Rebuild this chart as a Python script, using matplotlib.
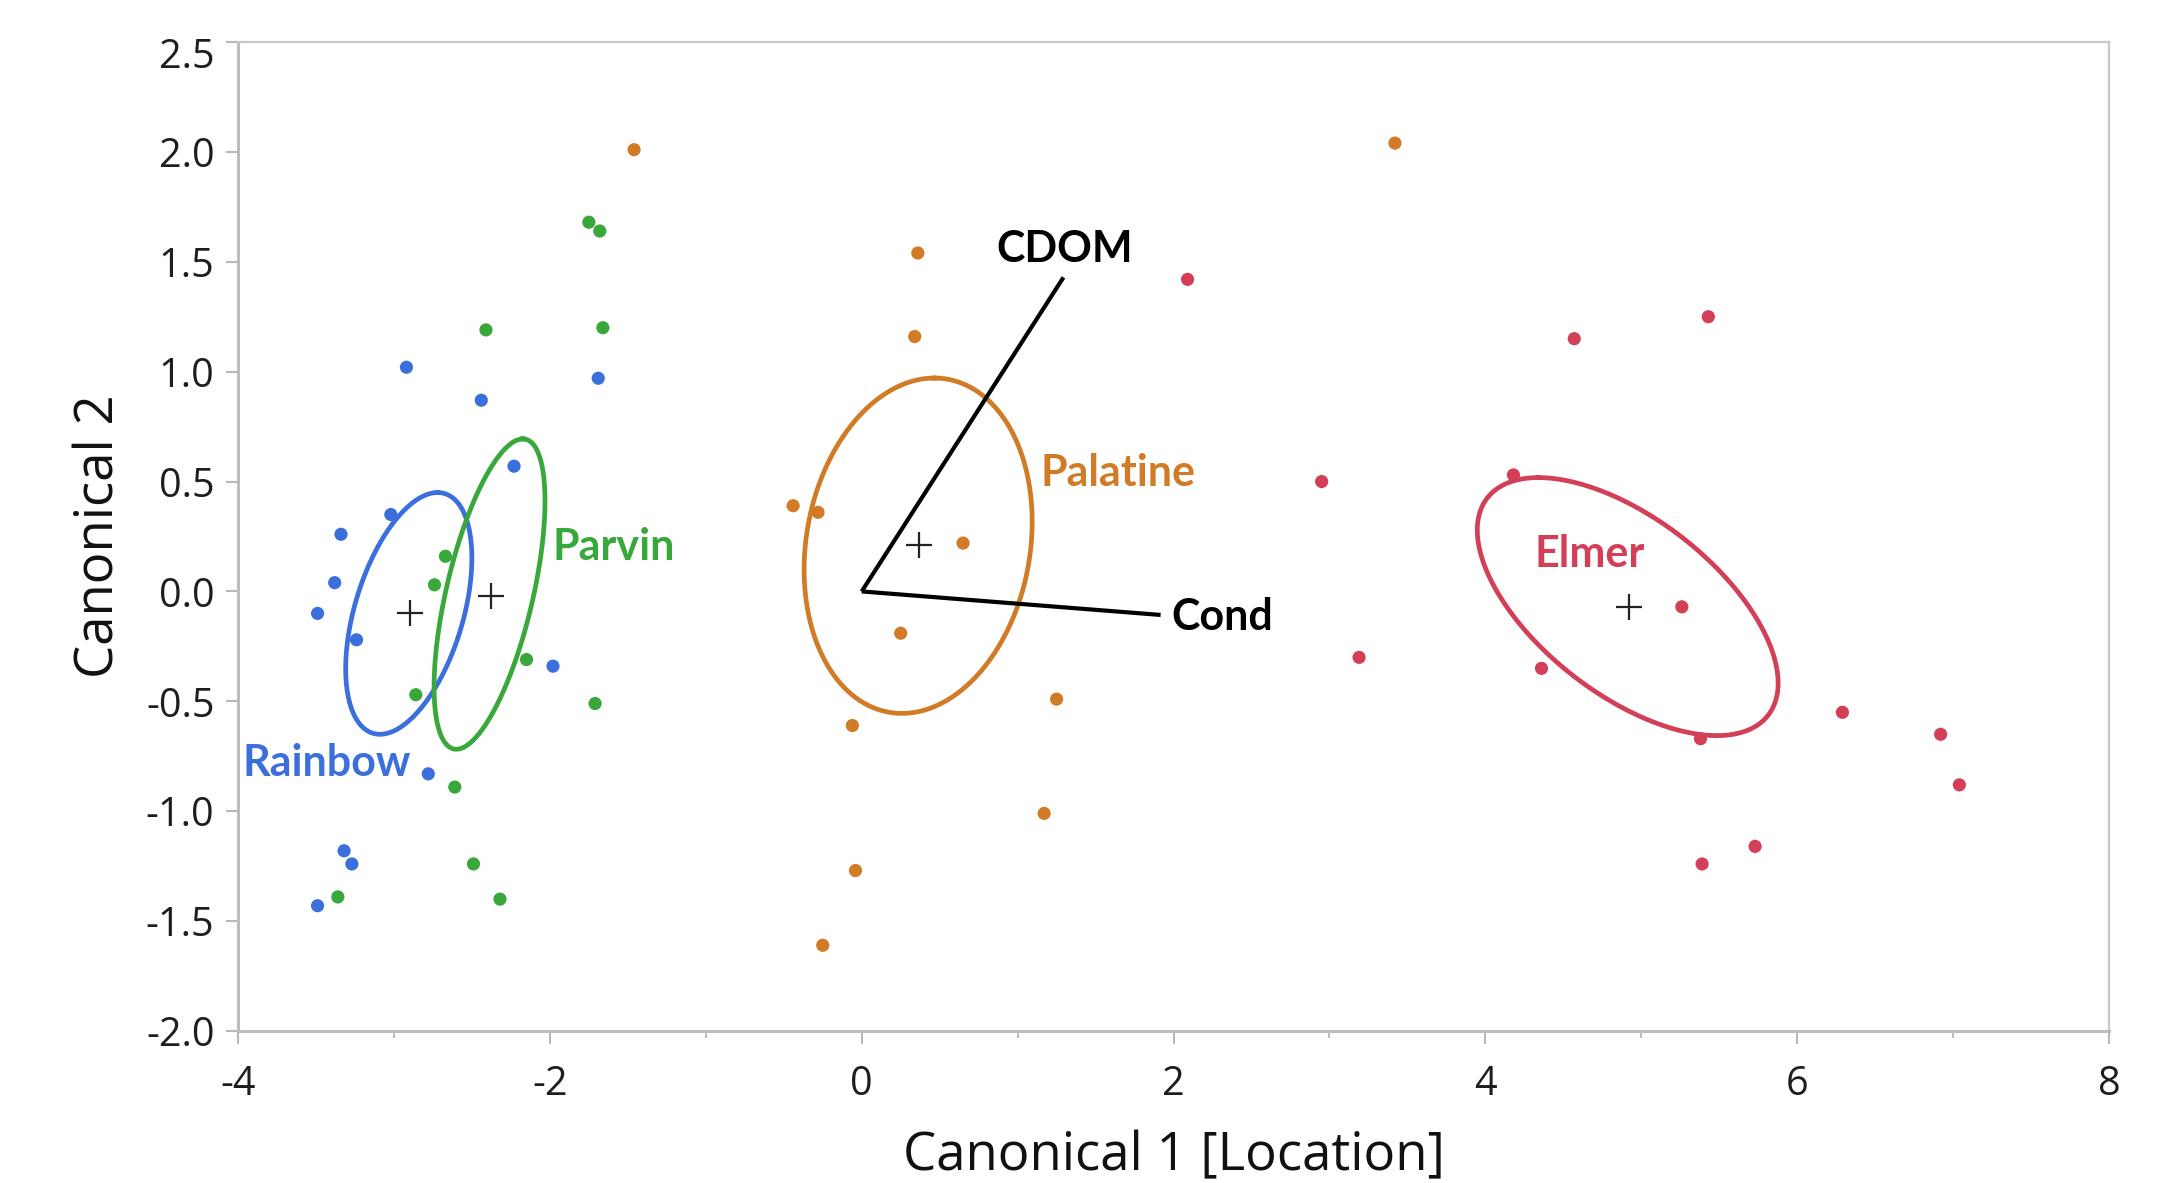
import numpy as np
import matplotlib
matplotlib.use("Agg")
import matplotlib.pyplot as plt
import matplotlib.transforms as mtransforms
from matplotlib.ticker import MultipleLocator

# --- data ---
groups = ["Rainbow", "Parvin", "Palatine", "Elmer"]
colors = ["#3b6fdc", "#38a83a", "#d27b27", "#d43f58"]

rainbow_x = [-2.92, -2.44, -1.69, -2.23, -3.02, -3.34, -3.38, -3.49, -3.24, -1.98, -2.78, -3.32, -3.27, -3.49]
rainbow_y = [1.02, 0.87, 0.97, 0.57, 0.35, 0.26, 0.04, -0.10, -0.22, -0.34, -0.83, -1.18, -1.24, -1.43]

parvin_x = [-1.75, -1.68, -2.41, -1.66, -2.67, -2.74, -2.15, -2.86, -1.71, -2.61, -2.49, -2.32, -3.36]
parvin_y = [1.68, 1.64, 1.19, 1.20, 0.16, 0.03, -0.31, -0.47, -0.51, -0.89, -1.24, -1.40, -1.39]

palatine_x = [-1.46, 0.36, 0.34, -0.44, -0.28, 0.65, 0.25, 1.25, -0.06, 1.17, -0.04, -0.25, 3.42]
palatine_y = [2.01, 1.54, 1.16, 0.39, 0.36, 0.22, -0.19, -0.49, -0.61, -1.01, -1.27, -1.61, 2.04]

elmer_x = [2.09, 4.57, 5.43, 2.95, 4.18, 5.26, 3.19, 4.36, 5.38, 6.29, 6.92, 7.04, 5.73, 5.39]
elmer_y = [1.42, 1.15, 1.25, 0.50, 0.53, -0.07, -0.30, -0.35, -0.67, -0.55, -0.65, -0.88, -1.16, -1.24]

# group means (+ markers)
mean_x = [-2.90, -2.38, 0.37, 4.92]
mean_y = [-0.10, -0.02, 0.21, -0.07]

# confidence ellipses: centre, vector to the top point, horizontal half-axis
ell_cx = [-2.905, -2.387, 0.362, 4.913]
ell_cy = [-0.10, -0.012, 0.208, -0.069]
ell_ux = [0.185, 0.213, 0.104, -0.572]
ell_uy = [0.55, 0.706, 0.763, 0.587]
ell_h = [0.36, 0.285, 0.724, 0.777]

# biplot rays
ray_names = ["CDOM", "Cond"]
ray_x = [1.294, 1.917]
ray_y = [1.429, -0.107]

xticks = [-4, -2, 0, 2, 4, 6, 8]
yticks = [-2.0, -1.5, -1.0, -0.5, 0.0, 0.5, 1.0, 1.5, 2.0, 2.5]

plt.rcParams['font.family'] = ['Open Sans', 'DejaVu Sans']

fig = plt.figure(figsize=(21.7, 11.83), dpi=100)
ax = fig.add_axes([0.1097, 0.1285, 0.8622, 0.836])

pts_x = [rainbow_x, parvin_x, palatine_x, elmer_x]
pts_y = [rainbow_y, parvin_y, palatine_y, elmer_y]

t = np.linspace(0, 2 * np.pi, 300)
for i in range(len(groups)):
    ex = ell_cx[i] + ell_ux[i] * np.cos(t) + ell_h[i] * np.sin(t)
    ey = ell_cy[i] + ell_uy[i] * np.cos(t)
    ax.plot(ex, ey, color=colors[i], lw=3.4, zorder=2)

for name, rx, ry in zip(ray_names, ray_x, ray_y):
    ax.plot([0, rx], [0, ry], color="black", lw=3.0, zorder=3, solid_capstyle="butt")

for i in range(len(groups)):
    ax.scatter(pts_x[i], pts_y[i], s=90, color=colors[i], edgecolors="none", zorder=4)

ax.plot(mean_x, mean_y, ls="none", marker="+", ms=19, mew=1.6, color="#222222", zorder=5)

# labels
lab_kw = dict(family=['Lato', 'DejaVu Sans'], fontweight="bold", fontsize=31, zorder=6)
ax.text(-3.97, -0.78, "Rainbow", color=colors[0], ha="left", va="center", **lab_kw)
ax.text(-1.98, 0.20, "Parvin", color=colors[1], ha="left", va="center", **lab_kw)
ax.text(1.645, 0.54, "Palatine", color=colors[2], ha="center", va="center", **lab_kw)
ax.text(4.667, 0.17, "Elmer", color=colors[3], ha="center", va="center", **lab_kw)
ax.text(1.30, 1.56, ray_names[0], color="black", ha="center", va="center", **lab_kw)
ax.text(1.985, -0.115, ray_names[1], color="black", ha="left", va="center", **lab_kw)

ax.set_xlim(-4, 8)
ax.set_ylim(-2.0, 2.5)
ax.set_xticks(xticks)
ax.set_xticklabels([str(v) for v in xticks])
ax.xaxis.set_minor_locator(MultipleLocator(1))
ax.set_yticks(yticks)
ax.set_yticklabels([f"{v:.1f}" for v in yticks])

ax.tick_params(axis="both", which="major", direction="out", length=9, width=1.5,
               color="#b8b8b8", labelsize=28.5, labelcolor="#1e1e1e", pad=8)
ax.tick_params(axis="x", which="major", pad=15)
ax.tick_params(axis="x", which="minor", direction="out", length=5, width=1.3, color="#b8b8b8")

# push the top tick label down a bit so it stays inside
off = mtransforms.ScaledTranslation(0, -11 / 100, fig.dpi_scale_trans)
lbl = ax.get_yticklabels()[-1]
lbl.set_transform(lbl.get_transform() + off)

for side in ["left", "bottom"]:
    ax.spines[side].set_color("#bcbcbc")
    ax.spines[side].set_linewidth(2.2)
for side in ["top", "right"]:
    ax.spines[side].set_color("#c8c8c8")
    ax.spines[side].set_linewidth(1.6)

ax.set_xlabel("Canonical 1 [Location]", fontsize=38, color="#111111", labelpad=18)
ax.set_ylabel("Canonical 2", fontsize=38, color="#111111", labelpad=14)

fig.savefig("out.png", dpi=100, facecolor="white")
